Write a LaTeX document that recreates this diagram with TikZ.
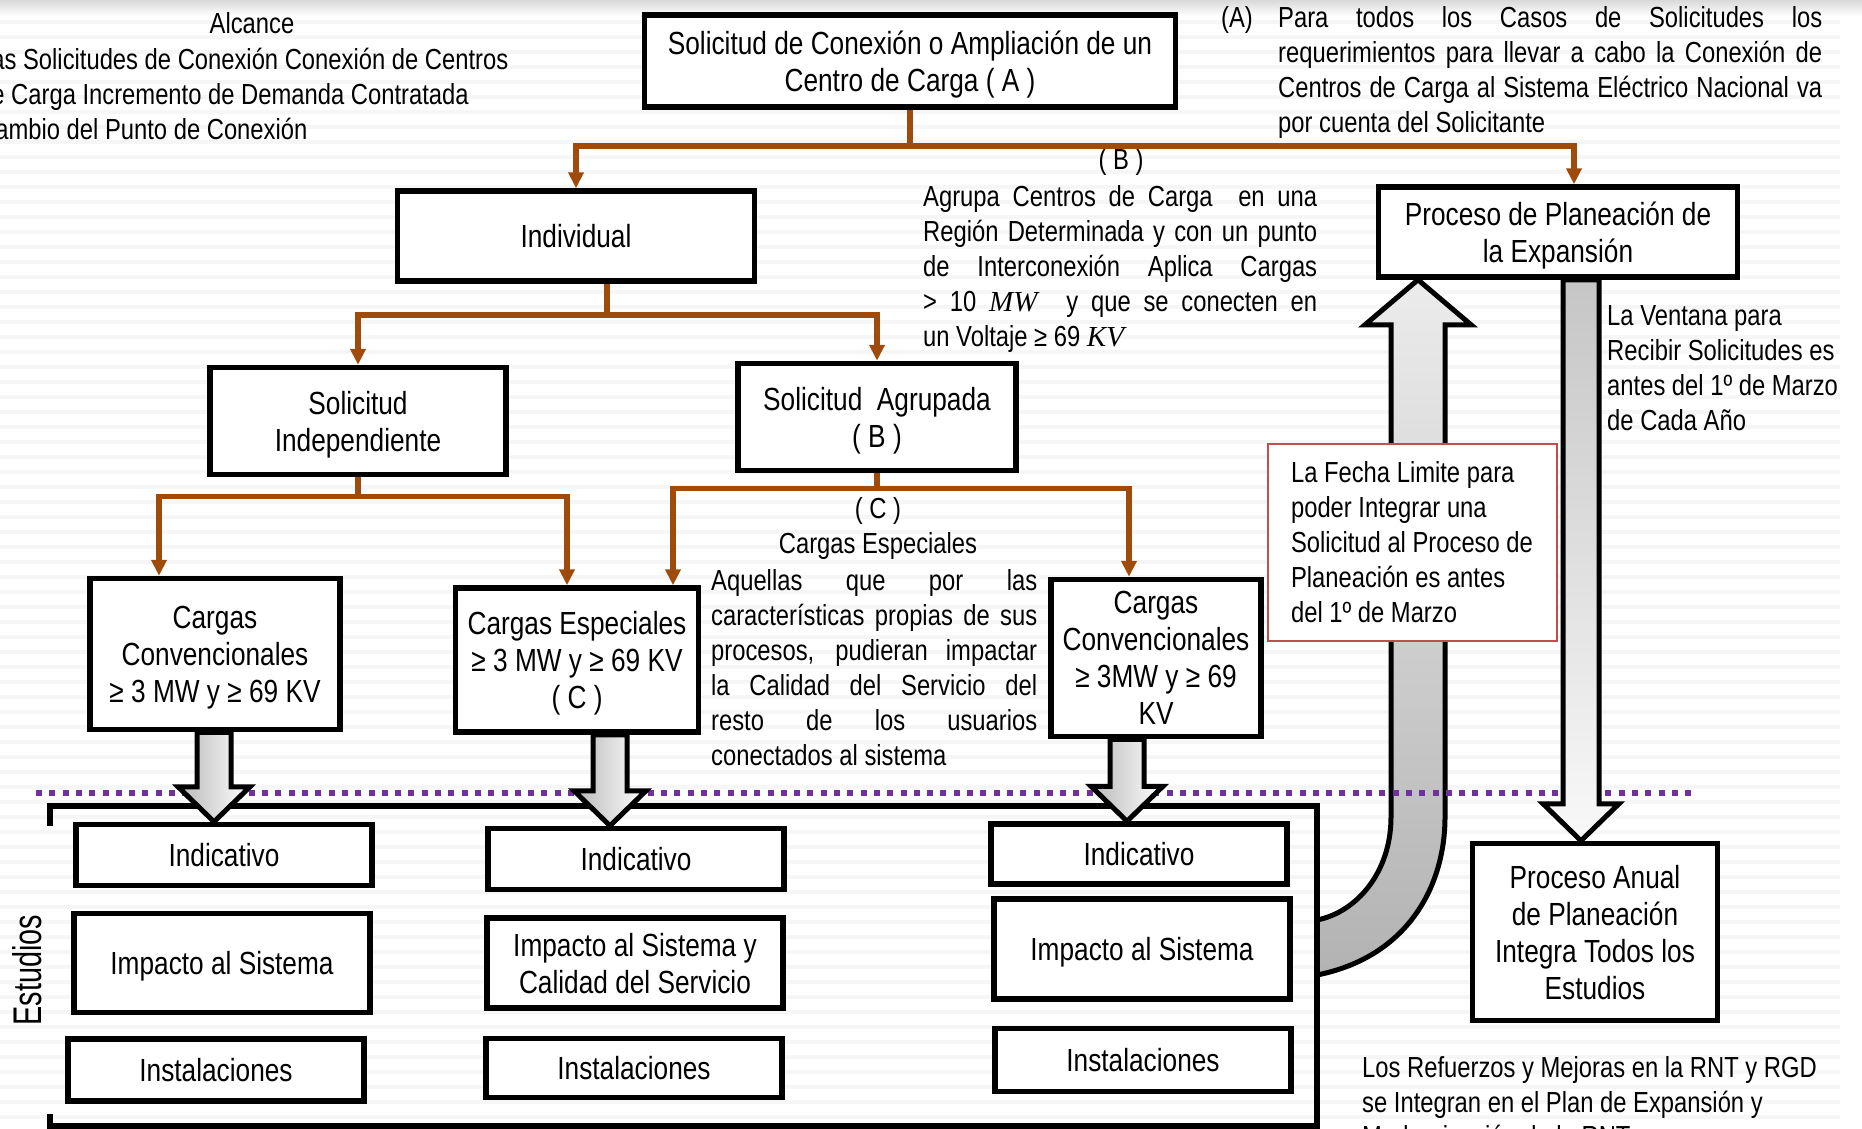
\documentclass[tikz,border=0pt]{standalone}
\usepackage{fontspec}
\setmainfont{Liberation Sans}[FakeStretch=0.82]
\newfontfamily\tallfont{Liberation Sans}[FakeStretch=0.72]
\newfontfamily\unitfont{Liberation Serif}
\usetikzlibrary{arrows.meta,calc,backgrounds}
\definecolor{branch}{RGB}{158,75,12}
\definecolor{dotpurple}{RGB}{112,48,160}
\definecolor{limitred}{RGB}{192,80,77}
\newcommand{\boxsize}{\fontsize{32}{37}\selectfont}
\newcommand{\notesize}{\fontsize{29}{35}\selectfont}
\tikzset{x=1pt,y=-1pt,
	brline/.style={draw=branch,line width=5.5pt},
	brarrow/.style={brline,-{Triangle[length=16pt,width=15pt]}}}
\tikzstyle{stepbox}=[rectangle,draw=black,fill=white,line width=5.5pt,inner sep=0pt,align=center,text depth=0pt,font=\boxsize]
\tikzstyle{studybox}=[stepbox,minimum width=296pt]
\tikzstyle{limitbox}=[rectangle,draw=limitred,fill=white,line width=2pt,inner sep=0pt,align=left,font=\notesize]
\tikzstyle{note}=[inner sep=0pt,font=\notesize]
\tikzstyle{fatarrow}=[draw=black,line width=5pt,line join=miter,left color=gray!55,right color=white]
\tikzstyle{bigarrow}=[draw=black,line width=5pt,line join=miter,top color=gray!15,bottom color=gray!60]
\tikzstyle{downarrow}=[draw=black,line width=5pt,line join=miter,top color=gray!45,bottom color=gray!5]
\tikzstyle{frame}=[draw=black,line width=6pt]
\tikzstyle{dotline}=[draw=dotpurple,line width=6pt,dash pattern=on 6pt off 7.3pt]
\tikzstyle{stripe}=[draw=gray!7,line width=4pt]
\newcommand{\fatdown}[3]{\draw[fatarrow] let \p1=([xshift=#3pt]#1.south), \p2=(#2.north) in
	(\x1-17pt,\y1) -- (\x1-17pt,\y2+35pt) -- (\x1-36pt,\y2+35pt) -- (\x1,\y2)
	-- (\x1+36pt,\y2+35pt) -- (\x1+17pt,\y2+35pt) -- (\x1+17pt,\y1) -- cycle;}

\begin{document}
\begin{tikzpicture}
	\useasboundingbox (0,0) rectangle (1862,1128);
	\clip (0,0) rectangle (1862,1128);
	\node at (910,61) [stepbox,minimum width=531pt,minimum height=92pt] (req) {Solicitud de Conexión o Ampliación de un\\Centro de Carga ( A )};
	\node at (576,236) [stepbox,minimum width=357pt,minimum height=90pt] (ind) {Individual};
	\node at (1558,232) [stepbox,minimum width=359pt,minimum height=90pt] (plan) {Proceso de Planeación de\\la Expansión};
	\node at (358,421) [stepbox,minimum width=296pt,minimum height=107pt] (indep) {Solicitud\\Independiente};
	\node at (877,417) [stepbox,minimum width=278pt,minimum height=107pt] (agr) {Solicitud~ Agrupada\\( B )};
	\node at (215,654) [stepbox,minimum width=250pt,minimum height=151pt] (conv1) {Cargas\\Convencionales\\≥ 3 MW y ≥ 69 KV};
	\node at (577,660) [stepbox,minimum width=243pt,minimum height=144pt] (esp) {Cargas Especiales\\≥ 3 MW y ≥ 69 KV\\( C )};
	\node at (1156,658) [stepbox,minimum width=210pt,minimum height=157pt] (conv2) {Cargas\\Convencionales\\≥ 3MW y ≥ 69\\KV};
	\node at (1595,932) [stepbox,minimum width=245pt,minimum height=177pt] (anual) {Proceso Anual\\de Planeación\\Integra Todos los\\Estudios};
	\node at (224,855) [studybox,minimum height=61pt] (ind1) {Indicativo};
	\node at (222,963) [studybox,minimum height=99pt] (imp1) {Impacto al Sistema};
	\node at (216,1070) [studybox,minimum height=62pt] (ins1) {Instalaciones};
	\node at (636,859) [studybox,minimum height=61pt] (ind2) {Indicativo};
	\node at (635,963) [studybox,minimum height=90pt] (imp2) {Impacto al Sistema y\\Calidad del Servicio};
	\node at (634,1068) [studybox,minimum height=59pt] (ins2) {Instalaciones};
	\node at (1139,854) [studybox,minimum height=60pt] (ind3) {Indicativo};
	\node at (1142,949) [studybox,minimum height=100pt] (imp3) {Impacto al Sistema};
	\node at (1143,1060) [studybox,minimum height=63pt] (ins3) {Instalaciones};
	\node at (1412,542) [limitbox,minimum width=289pt,minimum height=197pt] (limit) {La Fecha Limite para\\poder Integrar una\\Solicitud al Proceso de\\Planeación es antes\\del 1º de Marzo};
	\node at (252,23) [note] (alc) {Alcance};
	\node at (-22,94) [note,anchor=west,align=left] (scope) {Las Solicitudes de Conexión Conexión de Centros\\de Carga Incremento de Demanda Contratada\\Cambio del Punto de Conexión};
	\node at (1221,72) [note,anchor=west,text width=601pt,align=justify] (notea) {\hangindent=57pt\hangafter=1\noindent\makebox[57pt][l]{(A)}Para todos los Casos de Solicitudes los\linebreak requerimientos para llevar a cabo la Conexión de\linebreak Centros de Carga al Sistema Eléctrico Nacional va\linebreak por cuenta del Solicitante\par};
	\node at (1121,162) [note] (labb) {( B )};
	\node at (923,269) [note,anchor=west,text width=394pt,align=justify] (noteb) {Agrupa Centros de Carga~ en una\linebreak Región Determinada y con un punto\linebreak de Interconexión Aplica Cargas\linebreak > 10 {\unitfont\itshape MW}\quad y que se conecten en\linebreak un Voltaje ≥ 69 {\unitfont\itshape KV}\par};
	\node at (878,528) [note,align=center] (labc) {( C )\\Cargas Especiales};
	\node at (711,668) [note,anchor=west,text width=326pt,align=justify] (notec) {Aquellas que por las\linebreak características propias de sus\linebreak procesos, pudieran impactar\linebreak la Calidad del Servicio del\linebreak resto de los usuarios\linebreak conectados al sistema\par};
	\node at (1607,368) [note,anchor=west,align=left] (window) {La Ventana para\\Recibir Solicitudes es\\antes del 1º de Marzo\\de Cada Año};
	\node at (1362,1102) [note,anchor=west,align=left,font=\fontsize{29}{34.5}\selectfont] (reinf) {Los Refuerzos y Mejoras en la RNT y RGD\\se Integran en el Plan de Expansión y\\Modernización de la RNT};
	\node at (27,970) [rotate=90,inner sep=0pt,font=\tallfont\fontsize{40}{40}\selectfont] (studies) {Estudios};
	\draw[frame] (50,826) -- (50,806) -- (1317,806) -- (1317,1126) -- (50,1126) -- (50,1114);
	\coordinate (joint) at (1317,947);
	\draw[brline] (req.south) -- ++(0,36) coordinate (reqj);
	\draw[brarrow] (reqj) -| (ind.north);
	\draw[brarrow] (reqj) -| ([xshift=16pt]plan.north);
	\draw[brline] ([xshift=31pt]ind.south) -- ++(0,31) coordinate (indj);
	\draw[brarrow] (indj) -| (indep.north);
	\draw[brarrow] (indj) -| (agr.north);
	\draw[brline] (indep.south) -- ++(0,19) coordinate (indepj);
	\draw[brarrow] (indepj) -| ([xshift=-56pt]conv1.north);
	\draw[brarrow] (indepj) -| ([xshift=-10pt]esp.north);
	\draw[brline] (agr.south) -- ++(0,15) coordinate (agrj);
	\draw[brarrow] (agrj) -| ([xshift=96pt]esp.north);
	\draw[brarrow] (agrj) -| ([xshift=-27pt]conv2.north);
	\fatdown{conv1}{ind1}{-1}
	\fatdown{esp}{ind2}{33}
	\fatdown{conv2}{ind3}{-29}
	\draw[downarrow] let \p1=([xshift=23pt]plan.south), \p2=(anual.north) in
		(\x1-18pt,\y1) -- (\x1-18pt,\y2+37pt) -- (\x1-38pt,\y2+37pt) -- (\x1,\y2)
		-- (\x1+38pt,\y2+37pt) -- (\x1+18pt,\y2+37pt) -- (\x1+18pt,\y1) -- cycle;
	\begin{pgfonlayer}{background}
		\shade[top color=gray!30,bottom color=white] (0,0) rectangle (1862,16);
		\foreach \y in {22,37,...,1127} \draw[stripe] (0,\y) -- (1840,\y);
		\draw[bigarrow] let \p1=([xshift=-140pt]plan.south), \p2=(joint) in
			(\x2,\y2-28pt) .. controls (\x2+90pt,\y2-10pt) and (\x1+27pt,\y2+60pt) .. (\x1+27pt,\y2+130pt)
			-- (\x1+27pt,\y1-45pt) -- (\x1+53pt,\y1-45pt) -- (\x1,\y1) -- (\x1-53pt,\y1-45pt) -- (\x1-27pt,\y1-45pt)
			-- (\x1-27pt,\y2+130pt) .. controls (\x1-27pt,\y2+75pt) and (\x2+40pt,\y2+35pt) .. (\x2,\y2+27pt) -- cycle;
		\draw[dotline] (36,793) -- (1693,793);
	\end{pgfonlayer}
\end{tikzpicture}
\end{document}
